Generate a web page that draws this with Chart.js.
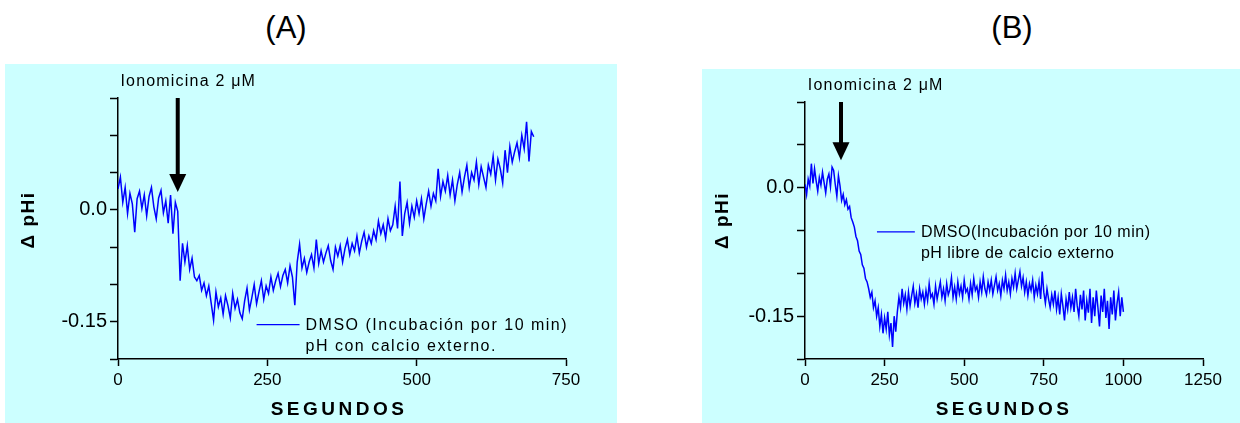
<!DOCTYPE html>
<html><head><meta charset="utf-8">
<script src="https://cdn.jsdelivr.net/npm/chart.js@4.4.0/dist/chart.umd.min.js"></script>
<style>
html,body{margin:0;padding:0;background:#fff;width:1240px;height:423px;overflow:hidden;font-family:"Liberation Sans",Arial,sans-serif;}
.panel{position:absolute;background:#ccffff;}
#pa{left:5px;top:64px;width:612px;height:359px;}
#pb{left:702px;top:69px;width:538px;height:354px;}
canvas{display:block;}
.ttl{position:absolute;top:10px;font-size:31px;line-height:36px;width:100px;text-align:center;color:#000;}
</style></head><body>
<div class="ttl" style="left:236px">(A)</div>
<div class="ttl" style="left:962px">(B)</div>
<div class="panel" id="pa"><canvas id="ca" width="612" height="359"></canvas></div>
<div class="panel" id="pb"><canvas id="cb" width="538" height="354"></canvas></div>
<script>
// ---------------- DATA ----------------
// Panel A: ΔpHi, one sample every 4 s starting at 0 s
const A_SAMPLE_START_S = 0;
const A_SAMPLE_INTERVAL_S = 4;
const A_DPHI = [
  .028, .044, .010, .030, -.005, .022, .008, -.030, .015, .025,
  .002, .020, -.008, .018, .030, .004, -.012, .016, .026, -.004,
  .012, -.018, .020, -.032, .010, -.002, -.095, -.045, -.070, -.048,
  -.080, -.065, -.090, -.095, -.088, -.108, -.098, -.115, -.102, -.125,
  -.148, -.110, -.130, -.118, -.140, -.115, -.128, -.145, -.112, -.132,
  -.120, -.138, -.146, -.122, -.105, -.134, -.118, -.100, -.126, -.110,
  -.095, -.120, -.102, -.112, -.090, -.108, -.095, -.085, -.103, -.088,
  -.080, -.098, -.075, -.090, -.128, -.070, -.046, -.078, -.065, -.084,
  -.070, -.060, -.078, -.040, -.072, -.055, -.070, -.058, -.048, -.068,
  -.080, -.050, -.062, -.048, -.070, -.052, -.040, -.060, -.045, -.055,
  -.035, -.058, -.042, -.030, -.050, -.035, -.045, -.028, -.040, -.015,
  -.032, -.020, -.038, -.012, -.028, -.020, .005, -.025, .038, -.035,
  -.005, .010, -.018, .005, -.010, .012, -.005, .015, -.012, .008,
  .025, .005, .022, .012, .055, .018, .038, .025, .046, .020,
  .040, .012, .034, .050, .024, .044, .060, .030, .050, .040,
  .064, .034, .058, .044, .030, .060, .048, .072, .040, .068,
  .055, .036, .080, .050, .085, .064, .078, .090, .070, .100,
  .082, .118, .065, .105, .098
];
// Panel B: ΔpHi, one sample every 5 s starting at 0 s
const B_SAMPLE_START_S = 0;
const B_SAMPLE_INTERVAL_S = 5;
const B_DPHI = [
  .004, -.008, .010, .002, .028, .005, .022, .008, -.004, .012,
  .003, .018, .006, -.006, .010, .016, .001, .024, .020, .004,
  -.010, .014, .002, -.015, -.008, -.020, -.014, -.025, -.022, -.035,
  -.040, -.046, -.057, -.062, -.074, -.078, -.090, -.094, -.106, -.110,
  -.118, -.128, -.122, -.140, -.132, -.150, -.140, -.162, -.148, -.170,
  -.152, -.165, -.145, -.172, -.158, -.186, -.150, -.168, -.145, -.128,
  -.140, -.118, -.135, -.125, -.142, -.122, -.138, -.126, -.115, -.135,
  -.124, -.140, -.118, -.130, -.122, -.136, -.120, -.132, -.112, -.128,
  -.124, -.136, -.115, -.130, -.120, -.110, -.128, -.118, -.132, -.112,
  -.125, -.119, -.105, -.128, -.116, -.130, -.110, -.124, -.115, -.128,
  -.108, -.122, -.118, -.130, -.112, -.125, -.106, -.120, -.115, -.128,
  -.110, -.122, -.104, -.118, -.125, -.110, -.120, -.108, -.124, -.114,
  -.104, -.120, -.112, -.126, -.108, -.118, -.102, -.120, -.110, -.124,
  -.106, -.116, -.100, -.118, -.108, -.098, -.115, -.105, -.122, -.110,
  -.126, -.112, -.120, -.108, -.128, -.114, -.124, -.110, -.130, -.098,
  -.122, -.135, -.118, -.130, -.140, -.125, -.136, -.120, -.142, -.128,
  -.148, -.124, -.138, -.155, -.130, -.142, -.122, -.140, -.128, -.145,
  -.118, -.138, -.150, -.125, -.142, -.120, -.155, -.132, -.146, -.118,
  -.158, -.128, -.150, -.120, -.140, -.162, -.126, -.145, -.118, -.152,
  -.132, -.165, -.128, -.148, -.120, -.155, -.135, -.122, -.150, -.128,
  -.145
];
const A_X_TICKS = [0, 250, 500, 750];
const B_X_TICKS = [0, 250, 500, 750, 1000, 1250];
const Y_TICK_VALUES_LABELED = [0, -0.15];
const Y_TICK_TEXTS = ['0.0', '-0.15'];
const X_TITLE = 'SEGUNDOS';
const Y_TITLE = 'Δ pHi';
const STIMULUS = 'Ionomicina 2 μM';
const A_LEGEND = ['DMSO (Incubación por 10 min)', 'pH con calcio externo.'];
const B_LEGEND = ['DMSO(Incubación por 10 min)', 'pH libre de calcio externo'];
const A_STIM_TIME_S = 100;
const B_STIM_TIME_S = 113;

// ---------------- RENDERING ----------------
const FONT = '"Liberation Sans", Arial, Helvetica, sans-serif';
Chart.defaults.font.family = FONT;

function yLabel(v) {
  for (let i = 0; i < Y_TICK_VALUES_LABELED.length; i++) {
    if (Math.abs(v - Y_TICK_VALUES_LABELED[i]) < 1e-9) return Y_TICK_TEXTS[i];
  }
  return '';
}

const titleStyle = {};

const spacedTitles = {
  id: 'spacedTitles',
  beforeDraw(chart) {
    const st = titleStyle[chart.canvas.id];
    for (const id of Object.keys(chart.scales)) {
      const s = chart.scales[id];
      if (s._patched) continue;
      const base = Chart.Scale.prototype.drawTitle;
      const sty = st[id];
      s.drawTitle = function () {
        const ctx = this.ctx;
        ctx.save();
        ctx.letterSpacing = sty.spacing + 'px';
        ctx.translate(sty.dx, sty.dy);
        base.call(this);
        ctx.restore();
      };
      s._patched = true;
    }
  }
};

const annot = {
  id: 'annot',
  afterDatasetsDraw(chart, args, o) {
    const {ctx, chartArea} = chart;
    const x = chart.scales.x, y = chart.scales.y;
    ctx.save();
    ctx.fillStyle = '#000';
    ctx.font = '16px ' + FONT;
    ctx.letterSpacing = o.textSpacing + 'px';
    ctx.textBaseline = 'middle';
    ctx.textAlign = 'left';
    ctx.fillText(o.text, x.getPixelForValue(o.textX), chartArea.top + o.textDy);
    const ax = x.getPixelForValue(o.arrowX);
    const y0 = y.getPixelForValue(o.arrowTop);
    const y1 = y.getPixelForValue(o.arrowTip);
    ctx.strokeStyle = '#000';
    ctx.lineWidth = 4;
    ctx.beginPath(); ctx.moveTo(ax, y0); ctx.lineTo(ax, y1 - 14); ctx.stroke();
    ctx.beginPath();
    ctx.moveTo(ax - 8.5, y1 - 18); ctx.lineTo(ax + 8.5, y1 - 18); ctx.lineTo(ax, y1);
    ctx.closePath(); ctx.fill();
    const ds = chart.data.datasets[0];
    const ly = y.getPixelForValue(o.legendY);
    ctx.strokeStyle = ds.borderColor;
    ctx.lineWidth = 1.2;
    ctx.beginPath();
    ctx.moveTo(x.getPixelForValue(o.legendX0), ly);
    ctx.lineTo(x.getPixelForValue(o.legendX1), ly);
    ctx.stroke();
    ctx.letterSpacing = o.legendSpacing + 'px';
    const tx = x.getPixelForValue(o.legendTextX);
    ds.label.forEach((line, i) => ctx.fillText(line, tx, ly + 1 + i * 21));
    ctx.restore();
  }
};

function makeChart(canvasId, c) {
  const pts = c.values.map((v, i) => ({x: c.t0 + i * c.dt, y: v}));
  titleStyle[canvasId] = c.titles;
  return new Chart(document.getElementById(canvasId), {
    type: 'line',
    data: {datasets: [{label: c.legend, data: pts, borderColor: '#0000ff', borderWidth: 1.5,
      pointRadius: 0, tension: 0, fill: false}]},
    options: {
      responsive: false, animation: false, devicePixelRatio: 1,
      layout: {padding: {left: 0, top: c.padTop, right: c.padRight, bottom: 0}},
      plugins: {legend: {display: false}, tooltip: {enabled: false}, title: {display: false},
        annot: c.annot},
      scales: {
        x: {
          type: 'linear', min: c.xTicks[0], max: c.xTicks[c.xTicks.length - 1],
          afterBuildTicks(s) { s.ticks = c.xTicks.map(v => ({value: v})); },
          ticks: {color: '#000', font: {size: 17}, padding: 4, maxRotation: 0, autoSkip: false,
            callback: v => String(v)},
          grid: {drawOnChartArea: false, tickLength: 7, tickWidth: 1.5, tickColor: '#000'},
          border: {color: '#000', width: 1.5},
          title: {display: true, text: X_TITLE, color: '#000',
            font: {size: 19, weight: 'bold'}, padding: {top: 0, bottom: 1.6}},
          afterFit(s) { s.height = c.xAxisH; }
        },
        y: {
          min: c.yMin, max: c.yMax,
          ticks: {stepSize: 0.05, color: '#000', font: {size: 20}, padding: 3, callback: v => yLabel(v)},
          grid: {drawOnChartArea: false, tickLength: 8, tickWidth: 1.5, tickColor: '#000'},
          border: {color: '#000', width: 1.5},
          title: {display: true, text: Y_TITLE, color: '#000',
            font: {size: 19, weight: 'bold'}, padding: {top: c.yTitlePad, bottom: 0}},
          afterFit(s) { s.width = c.yAxisW; }
        }
      }
    },
    plugins: [spacedTitles, annot]
  });
}

makeChart('ca', {
  values: A_DPHI, t0: A_SAMPLE_START_S, dt: A_SAMPLE_INTERVAL_S, legend: A_LEGEND,
  xTicks: A_X_TICKS, yMin: -0.20, yMax: 0.15,
  padTop: 34, padRight: 51, yAxisW: 113, xAxisH: 64, yTitlePad: 12.6,
  titles: {x: {spacing: 3.5, dx: -3, dy: 0}, y: {spacing: 1.5, dx: 0, dy: -8.5}},
  annot: {text: STIMULUS, textX: 4, textDy: -16, textSpacing: 1.2,
    arrowX: A_STIM_TIME_S, arrowTop: 0.15, arrowTip: 0.024,
    legendX0: 232, legendX1: 304, legendY: -0.154, legendTextX: 314, legendSpacing: 1.5}
});

makeChart('cb', {
  values: B_DPHI, t0: B_SAMPLE_START_S, dt: B_SAMPLE_INTERVAL_S, legend: B_LEGEND,
  xTicks: B_X_TICKS, yMin: -0.20, yMax: 0.10,
  padTop: 33, padRight: 37, yAxisW: 103, xAxisH: 64, yTitlePad: 9.6,
  titles: {x: {spacing: 3.5, dx: 0, dy: 0}, y: {spacing: 1.5, dx: 0, dy: -10}},
  annot: {text: STIMULUS, textX: 9, textDy: -16, textSpacing: 1.2,
    arrowX: B_STIM_TIME_S, arrowTop: 0.10, arrowTip: 0.032,
    legendX0: 226, legendX1: 345, legendY: -0.0515, legendTextX: 364, legendSpacing: 0.5}
});
</script>
</body></html>
